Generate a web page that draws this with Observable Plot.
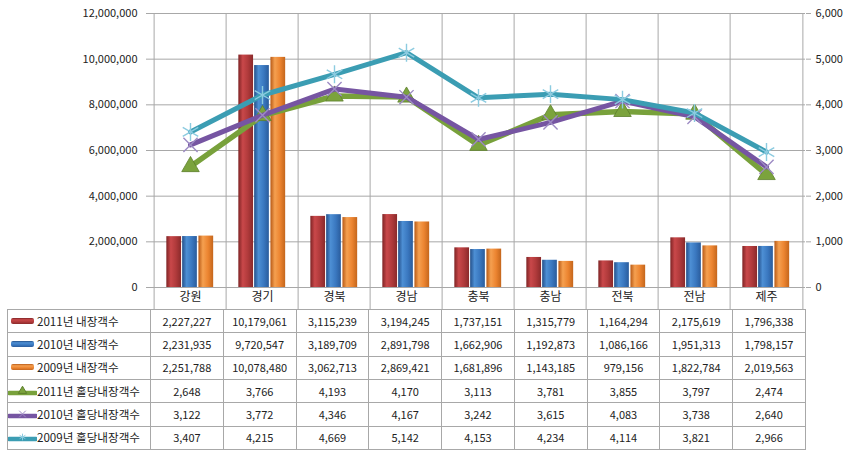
<!DOCTYPE html>
<html><head><meta charset="utf-8">
<script src="https://cdn.jsdelivr.net/npm/d3@7"></script>
<script src="https://cdn.jsdelivr.net/npm/@observablehq/plot@0.6"></script>
<style>
body{margin:0;background:#fff;font-family:"Noto Sans CJK KR","Noto Sans",sans-serif;}
#wrap{position:relative;width:844px;height:450px;overflow:hidden;background:#fff}
#chart{position:absolute;left:0;top:0}
#tbl{position:absolute;left:7px;top:309px;border-collapse:collapse;table-layout:fixed;width:798px;font-size:11px;color:#222}
#tbl td{border:1px solid #a8a8a8;padding:0;text-align:center;white-space:nowrap;line-height:1;height:23.35px;box-sizing:border-box}
#tbl td.lab{text-align:left;font-size:11.6px}
#tbl td.lab svg{vertical-align:middle;margin-right:0}
#tbl td.lab span{vertical-align:middle}
</style>
</head><body>
<div id="wrap"><div id="chart"></div><table id="tbl"></table></div>
<script>
// ---- data ----
const regions = ["강원","경기","경북","경남","충북","충남","전북","전남","제주"];
const visitors2011 = [2227227,10179061,3115239,3194245,1737151,1315779,1164294,2175619,1796338];
const visitors2010 = [2231935,9720547,3189709,2891798,1662906,1192873,1086166,1951313,1798157];
const visitors2009 = [2251788,10078480,3062713,2869421,1681896,1143185,979156,1822784,2019563];
const perRoom2011 = [2648,3766,4193,4170,3113,3781,3855,3797,2474];
const perRoom2010 = [3122,3772,4346,4167,3242,3615,4083,3738,2640];
const perRoom2009 = [3407,4215,4669,5142,4153,4234,4114,3821,2966];
const leftTicks = [0,2000000,4000000,6000000,8000000,10000000,12000000];
const rightTicks = [0,1000,2000,3000,4000,5000,6000];
const seriesLabels = ["2011년 내장객수","2010년 내장객수","2009년 내장객수","2011년 홀당내장객수","2010년 홀당내장객수","2009년 홀당내장객수"];

const RATIO = 12000000 / 6000;
const fmt = d3.format(",");
const rows = regions.map((r, i) => ({
  region: r,
  v2011: visitors2011[i], v2010: visitors2010[i], v2009: visitors2009[i],
  p2011: perRoom2011[i], p2010: perRoom2010[i], p2009: perRoom2009[i]
}));

const W = 844, H = 310, ML = 150, MR = 39, MT = 13, MB = 23;
const bw = (W - ML - MR) / regions.length;
const barW = 15.5;
const inset = (bw - barW) / 2;
const font = '"Noto Sans CJK KR","Noto Sans",sans-serif';
const grid = "#a8a8a8";

const gradients = [
  {id: "gRed", stops: ["#7e2324", "#c9484a", "#b03a3b", "#8a2a2b"]},
  {id: "gBlue", stops: ["#24508a", "#4d8fd4", "#3a78c0", "#2a5c9c"]},
  {id: "gOrange", stops: ["#b85a16", "#f5a050", "#ec8430", "#c4661c"]}
];
function defs() {
  const d = d3.create("svg:defs");
  for (const g of gradients) {
    const lg = d.append("linearGradient").attr("id", g.id).attr("x1", 0).attr("x2", 1).attr("y1", 0).attr("y2", 0);
    const offs = [0, 0.3, 0.65, 1];
    g.stops.forEach((c, k) => lg.append("stop").attr("offset", offs[k]).attr("stop-color", c));
    const lv = d.append("linearGradient").attr("id", g.id + "V").attr("x1", 0).attr("x2", 0).attr("y1", 0).attr("y2", 1);
    g.stops.forEach((c, k) => lv.append("stop").attr("offset", offs[k]).attr("stop-color", c));
  }
  return d.node();
}

const lineSeries = [
  {key: "p2011", color: "#78a13b", symbol: "triangle", r: 6.5, fill: "#7ba33d", mstroke: "#5d7f2c", sw: 0.8, lw: 5.5},
  {key: "p2010", color: "#7655a2", symbol: "times", r: 6.5, fill: "none", mstroke: "#9d8bc4", sw: 1.4, lw: 5},
  {key: "p2009", color: "#3b9db3", symbol: "asterisk", r: 8.5, fill: "none", mstroke: "#8ccbe0", sw: 1.4, lw: 5}
];

const lineMarks = lineSeries.flatMap(s => [
  Plot.line(rows, {x: "region", y: d => d[s.key] * RATIO, stroke: s.color, strokeWidth: s.lw, strokeLinejoin: "round", strokeLinecap: "round"}),
  Plot.dot(rows, {x: "region", y: d => d[s.key] * RATIO, symbol: s.symbol, r: s.r, fill: s.fill, stroke: s.mstroke, strokeWidth: s.sw})
]);

const chart = Plot.plot({
  width: W, height: H, marginTop: MT, marginBottom: MB, marginLeft: ML, marginRight: MR,
  style: {fontFamily: font, fontSize: "11px", color: "#222", background: "transparent", overflow: "visible"},
  x: {domain: regions, padding: 0, axis: null, label: null},
  y: {domain: [0, 12000000], axis: null, label: null},
  marks: [
    defs,
    Plot.ruleY(leftTicks, {stroke: grid}),
    Plot.ruleX(regions, {x: d => d, dx: -bw / 2, stroke: grid, insetBottom: -22}),
    Plot.ruleX([regions[regions.length - 1]], {x: d => d, dx: bw / 2, stroke: grid, insetBottom: -22}),
    Plot.barY(rows, {x: "region", y: "v2011", fill: "url(#gRed)", dx: -16.3, insetLeft: inset, insetRight: inset}),
    Plot.barY(rows, {x: "region", y: "v2010", fill: "url(#gBlue)", dx: -0.5, insetLeft: inset, insetRight: inset}),
    Plot.barY(rows, {x: "region", y: "v2009", fill: "url(#gOrange)", dx: 15.8, insetLeft: inset, insetRight: inset}),
    ...lineMarks,
    Plot.axisY({ticks: leftTicks, anchor: "left", label: null, tickFormat: d => fmt(d), tickSize: 4, tickPadding: 9, stroke: grid, fill: "#222", fontSize: 11}),
    Plot.axisY({ticks: leftTicks, anchor: "right", label: null, tickFormat: d => fmt(d / RATIO), tickSize: 5, tickPadding: 5, stroke: grid, fill: "#222", fontSize: 11}),
    Plot.axisX({tickSize: 0, tickPadding: 5, label: null, fill: "#222", fontSize: 12})
  ]
});
document.getElementById("chart").appendChild(chart);

// ---- data table ----
const tableSeries = [
  {label: seriesLabels[0], values: visitors2011, kind: "bar", grad: "gRedV"},
  {label: seriesLabels[1], values: visitors2010, kind: "bar", grad: "gBlueV"},
  {label: seriesLabels[2], values: visitors2009, kind: "bar", grad: "gOrangeV"},
  {label: seriesLabels[3], values: perRoom2011, kind: "line", s: lineSeries[0]},
  {label: seriesLabels[4], values: perRoom2010, kind: "line", s: lineSeries[1]},
  {label: seriesLabels[5], values: perRoom2009, kind: "line", s: lineSeries[2]}
];
const tbl = d3.select("#tbl");
const cg = tbl.append("colgroup");
cg.append("col").style("width", (ML - 7) + "px");
regions.forEach(() => cg.append("col").style("width", bw + "px"));
const symMap = {triangle: d3.symbolTriangle, times: d3.symbolTimes, asterisk: d3.symbolAsterisk};
tableSeries.forEach(ts => {
  const tr = tbl.append("tr");
  const lab = tr.append("td").attr("class", "lab");
  const sv = lab.append("svg").attr("width", 29).attr("height", 12);
  if (ts.kind === "bar") {
    sv.append("rect").attr("x", 3).attr("y", 2).attr("width", 23).attr("height", 6).attr("rx", 2).attr("fill", "url(#" + ts.grad + ")");
  } else {
    sv.append("line").attr("x1", 1).attr("x2", 28).attr("y1", 7).attr("y2", 7).attr("stroke", ts.s.color).attr("stroke-width", 4.5).attr("stroke-linecap", "round");
    sv.append("path").attr("transform", "translate(14.5,5)").attr("d", d3.symbol(symMap[ts.s.symbol], 30)())
      .attr("fill", ts.s.fill === "none" ? "none" : ts.s.fill).attr("stroke", ts.s.mstroke).attr("stroke-width", 1);
  }
  lab.append("span").text(ts.label);
  ts.values.forEach(v => tr.append("td").text(fmt(v)));
});
</script>
</body></html>
